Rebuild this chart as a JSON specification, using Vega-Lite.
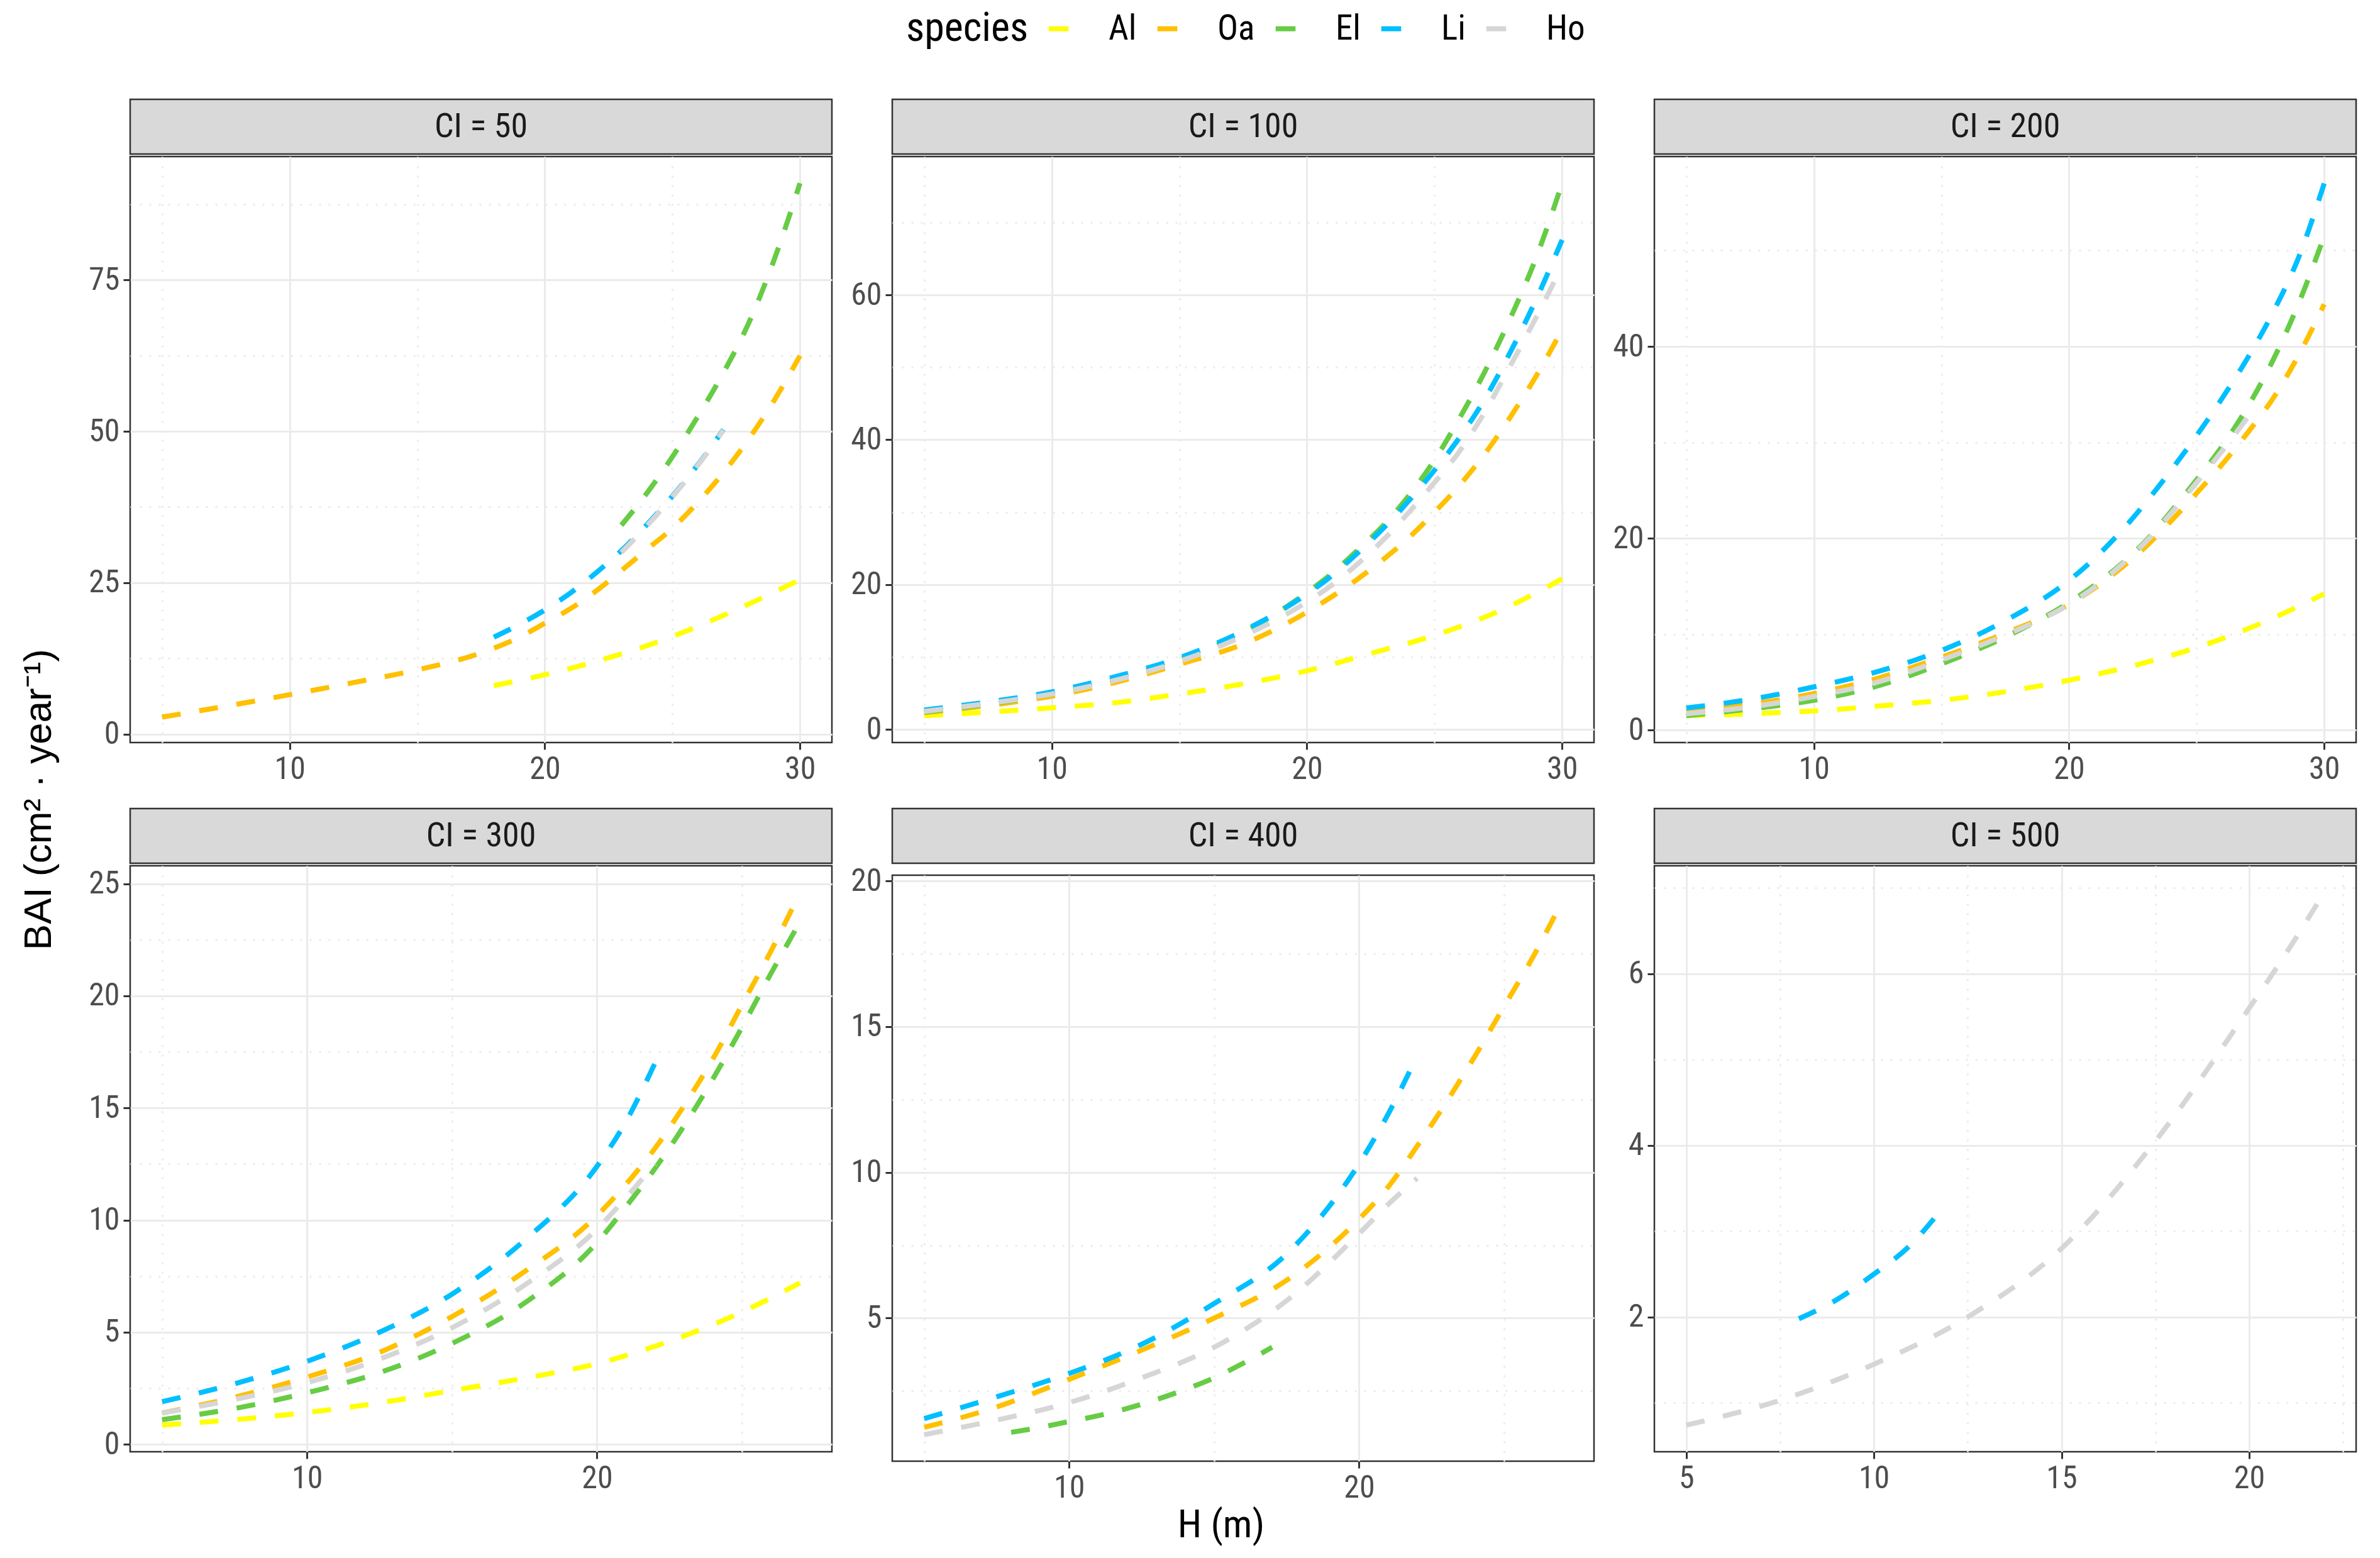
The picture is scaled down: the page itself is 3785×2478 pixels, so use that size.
{
  "$schema": "https://vega.github.io/schema/vega-lite/v6.json",
  "padding": {"left": 30, "top": 18, "right": 14, "bottom": 8},
  "title": {"text": "BAI (cm² · year⁻¹)", "orient": "left", "anchor": "middle", "fontSize": 62, "font": "Liberation Sans", "fontWeight": "normal", "color": "#000000", "offset": 42, "dx": -34},
  "datasets": {
    "strips": [
      {"CI": 50, "label": "CI = 50"}, {"CI": 100, "label": "CI = 100"}, {"CI": 200, "label": "CI = 200"},
      {"CI": 300, "label": "CI = 300"}, {"CI": 400, "label": "CI = 400"}, {"CI": 500, "label": "CI = 500"}
    ],
    "bai": [
      {"CI": 50, "species": "Al", "H": 18, "BAI": 8.0}, {"CI": 50, "species": "Al", "H": 20, "BAI": 9.8}, {"CI": 50, "species": "Al", "H": 22, "BAI": 12.0}, {"CI": 50, "species": "Al", "H": 24, "BAI": 14.6}, {"CI": 50, "species": "Al", "H": 26, "BAI": 17.8}, {"CI": 50, "species": "Al", "H": 28, "BAI": 21.5}, {"CI": 50, "species": "Al", "H": 30, "BAI": 25.5},
      {"CI": 50, "species": "Oa", "H": 5, "BAI": 2.8}, {"CI": 50, "species": "Oa", "H": 7.5, "BAI": 4.6}, {"CI": 50, "species": "Oa", "H": 10, "BAI": 6.5}, {"CI": 50, "species": "Oa", "H": 12.5, "BAI": 8.5}, {"CI": 50, "species": "Oa", "H": 15, "BAI": 10.6}, {"CI": 50, "species": "Oa", "H": 17.5, "BAI": 13.4}, {"CI": 50, "species": "Oa", "H": 19, "BAI": 16.0}, {"CI": 50, "species": "Oa", "H": 20, "BAI": 18.3}, {"CI": 50, "species": "Oa", "H": 21, "BAI": 20.7}, {"CI": 50, "species": "Oa", "H": 22, "BAI": 23.6}, {"CI": 50, "species": "Oa", "H": 23, "BAI": 27.0}, {"CI": 50, "species": "Oa", "H": 24, "BAI": 30.5}, {"CI": 50, "species": "Oa", "H": 25, "BAI": 34.0}, {"CI": 50, "species": "Oa", "H": 26, "BAI": 38.3}, {"CI": 50, "species": "Oa", "H": 27, "BAI": 43.2}, {"CI": 50, "species": "Oa", "H": 28, "BAI": 48.8}, {"CI": 50, "species": "Oa", "H": 29, "BAI": 55.2}, {"CI": 50, "species": "Oa", "H": 30, "BAI": 62.5},
      {"CI": 50, "species": "El", "H": 23, "BAI": 34.5}, {"CI": 50, "species": "El", "H": 24, "BAI": 39.8}, {"CI": 50, "species": "El", "H": 25, "BAI": 45.8}, {"CI": 50, "species": "El", "H": 26, "BAI": 52.5}, {"CI": 50, "species": "El", "H": 27, "BAI": 59.7}, {"CI": 50, "species": "El", "H": 28, "BAI": 68.0}, {"CI": 50, "species": "El", "H": 29, "BAI": 78.5}, {"CI": 50, "species": "El", "H": 30, "BAI": 91.0},
      {"CI": 50, "species": "Li", "H": 18, "BAI": 16.0}, {"CI": 50, "species": "Li", "H": 19, "BAI": 18.1}, {"CI": 50, "species": "Li", "H": 20, "BAI": 20.5}, {"CI": 50, "species": "Li", "H": 21, "BAI": 23.3}, {"CI": 50, "species": "Li", "H": 22, "BAI": 26.6}, {"CI": 50, "species": "Li", "H": 23, "BAI": 30.3}, {"CI": 50, "species": "Li", "H": 24, "BAI": 34.6}, {"CI": 50, "species": "Li", "H": 25, "BAI": 39.3}, {"CI": 50, "species": "Li", "H": 26, "BAI": 44.5}, {"CI": 50, "species": "Li", "H": 27, "BAI": 50.3},
      {"CI": 50, "species": "Ho", "H": 23, "BAI": 30.0}, {"CI": 50, "species": "Ho", "H": 24, "BAI": 34.4}, {"CI": 50, "species": "Ho", "H": 25, "BAI": 39.2}, {"CI": 50, "species": "Ho", "H": 26, "BAI": 44.4}, {"CI": 50, "species": "Ho", "H": 27, "BAI": 50.2},

      {"CI": 100, "species": "Al", "H": 5, "BAI": 1.9}, {"CI": 100, "species": "Al", "H": 7.5, "BAI": 2.4}, {"CI": 100, "species": "Al", "H": 10, "BAI": 3.0}, {"CI": 100, "species": "Al", "H": 12.5, "BAI": 3.7}, {"CI": 100, "species": "Al", "H": 15, "BAI": 4.9}, {"CI": 100, "species": "Al", "H": 17.5, "BAI": 6.3}, {"CI": 100, "species": "Al", "H": 20, "BAI": 8.1}, {"CI": 100, "species": "Al", "H": 22.5, "BAI": 10.5}, {"CI": 100, "species": "Al", "H": 25, "BAI": 13.0}, {"CI": 100, "species": "Al", "H": 27.5, "BAI": 16.3}, {"CI": 100, "species": "Al", "H": 30, "BAI": 20.8},
      {"CI": 100, "species": "Oa", "H": 5, "BAI": 2.3}, {"CI": 100, "species": "Oa", "H": 7.5, "BAI": 3.3}, {"CI": 100, "species": "Oa", "H": 10, "BAI": 4.6}, {"CI": 100, "species": "Oa", "H": 12.5, "BAI": 6.5}, {"CI": 100, "species": "Oa", "H": 15, "BAI": 9.0}, {"CI": 100, "species": "Oa", "H": 17.5, "BAI": 11.8}, {"CI": 100, "species": "Oa", "H": 20, "BAI": 16.2}, {"CI": 100, "species": "Oa", "H": 21, "BAI": 18.4}, {"CI": 100, "species": "Oa", "H": 22, "BAI": 20.8}, {"CI": 100, "species": "Oa", "H": 23, "BAI": 23.5}, {"CI": 100, "species": "Oa", "H": 24, "BAI": 26.5}, {"CI": 100, "species": "Oa", "H": 25, "BAI": 30.0}, {"CI": 100, "species": "Oa", "H": 26, "BAI": 33.8}, {"CI": 100, "species": "Oa", "H": 27, "BAI": 38.2}, {"CI": 100, "species": "Oa", "H": 28, "BAI": 43.3}, {"CI": 100, "species": "Oa", "H": 29, "BAI": 48.9}, {"CI": 100, "species": "Oa", "H": 30, "BAI": 55.2},
      {"CI": 100, "species": "El", "H": 5, "BAI": 2.4}, {"CI": 100, "species": "El", "H": 7.5, "BAI": 3.5}, {"CI": 100, "species": "El", "H": 10, "BAI": 4.9}, {"CI": 100, "species": "El", "H": 12.5, "BAI": 6.9}, {"CI": 100, "species": "El", "H": 15, "BAI": 9.6}, {"CI": 100, "species": "El", "H": 17.5, "BAI": 13.4}, {"CI": 100, "species": "El", "H": 20, "BAI": 18.9}, {"CI": 100, "species": "El", "H": 21, "BAI": 21.6}, {"CI": 100, "species": "El", "H": 22, "BAI": 24.8}, {"CI": 100, "species": "El", "H": 23, "BAI": 28.2}, {"CI": 100, "species": "El", "H": 24, "BAI": 32.3}, {"CI": 100, "species": "El", "H": 25, "BAI": 37.2}, {"CI": 100, "species": "El", "H": 26, "BAI": 43.1}, {"CI": 100, "species": "El", "H": 27, "BAI": 49.6}, {"CI": 100, "species": "El", "H": 28, "BAI": 57.0}, {"CI": 100, "species": "El", "H": 29, "BAI": 65.3}, {"CI": 100, "species": "El", "H": 30, "BAI": 75.4},
      {"CI": 100, "species": "Li", "H": 5, "BAI": 2.7}, {"CI": 100, "species": "Li", "H": 7.5, "BAI": 3.8}, {"CI": 100, "species": "Li", "H": 10, "BAI": 5.2}, {"CI": 100, "species": "Li", "H": 12.5, "BAI": 7.3}, {"CI": 100, "species": "Li", "H": 15, "BAI": 9.9}, {"CI": 100, "species": "Li", "H": 17.5, "BAI": 13.6}, {"CI": 100, "species": "Li", "H": 20, "BAI": 18.7}, {"CI": 100, "species": "Li", "H": 21, "BAI": 21.3}, {"CI": 100, "species": "Li", "H": 22, "BAI": 24.4}, {"CI": 100, "species": "Li", "H": 23, "BAI": 27.8}, {"CI": 100, "species": "Li", "H": 24, "BAI": 31.6}, {"CI": 100, "species": "Li", "H": 25, "BAI": 35.8}, {"CI": 100, "species": "Li", "H": 26, "BAI": 40.4}, {"CI": 100, "species": "Li", "H": 27, "BAI": 45.8}, {"CI": 100, "species": "Li", "H": 28, "BAI": 52.3}, {"CI": 100, "species": "Li", "H": 29, "BAI": 59.5}, {"CI": 100, "species": "Li", "H": 30, "BAI": 67.6},
      {"CI": 100, "species": "Ho", "H": 5, "BAI": 2.5}, {"CI": 100, "species": "Ho", "H": 7.5, "BAI": 3.6}, {"CI": 100, "species": "Ho", "H": 10, "BAI": 4.9}, {"CI": 100, "species": "Ho", "H": 12.5, "BAI": 6.8}, {"CI": 100, "species": "Ho", "H": 15, "BAI": 9.4}, {"CI": 100, "species": "Ho", "H": 17.5, "BAI": 12.9}, {"CI": 100, "species": "Ho", "H": 20, "BAI": 17.6}, {"CI": 100, "species": "Ho", "H": 21, "BAI": 20.0}, {"CI": 100, "species": "Ho", "H": 22, "BAI": 22.9}, {"CI": 100, "species": "Ho", "H": 23, "BAI": 26.2}, {"CI": 100, "species": "Ho", "H": 24, "BAI": 30.0}, {"CI": 100, "species": "Ho", "H": 25, "BAI": 34.1}, {"CI": 100, "species": "Ho", "H": 26, "BAI": 38.5}, {"CI": 100, "species": "Ho", "H": 27, "BAI": 44.0}, {"CI": 100, "species": "Ho", "H": 28, "BAI": 50.4}, {"CI": 100, "species": "Ho", "H": 29, "BAI": 57.0}, {"CI": 100, "species": "Ho", "H": 30, "BAI": 64.0},

      {"CI": 200, "species": "Al", "H": 5, "BAI": 1.5}, {"CI": 200, "species": "Al", "H": 7.5, "BAI": 1.7}, {"CI": 200, "species": "Al", "H": 10, "BAI": 2.0}, {"CI": 200, "species": "Al", "H": 12.5, "BAI": 2.5}, {"CI": 200, "species": "Al", "H": 15, "BAI": 3.1}, {"CI": 200, "species": "Al", "H": 17.5, "BAI": 4.0}, {"CI": 200, "species": "Al", "H": 20, "BAI": 5.2}, {"CI": 200, "species": "Al", "H": 22.5, "BAI": 6.7}, {"CI": 200, "species": "Al", "H": 25, "BAI": 8.6}, {"CI": 200, "species": "Al", "H": 27.5, "BAI": 11.1}, {"CI": 200, "species": "Al", "H": 30, "BAI": 14.2},
      {"CI": 200, "species": "Oa", "H": 5, "BAI": 1.9}, {"CI": 200, "species": "Oa", "H": 7.5, "BAI": 2.7}, {"CI": 200, "species": "Oa", "H": 10, "BAI": 3.8}, {"CI": 200, "species": "Oa", "H": 12.5, "BAI": 5.4}, {"CI": 200, "species": "Oa", "H": 15, "BAI": 7.6}, {"CI": 200, "species": "Oa", "H": 17.5, "BAI": 10.1}, {"CI": 200, "species": "Oa", "H": 20, "BAI": 13.1}, {"CI": 200, "species": "Oa", "H": 21, "BAI": 14.8}, {"CI": 200, "species": "Oa", "H": 22, "BAI": 16.8}, {"CI": 200, "species": "Oa", "H": 23, "BAI": 19.1}, {"CI": 200, "species": "Oa", "H": 24, "BAI": 21.8}, {"CI": 200, "species": "Oa", "H": 25, "BAI": 24.7}, {"CI": 200, "species": "Oa", "H": 26, "BAI": 27.7}, {"CI": 200, "species": "Oa", "H": 27, "BAI": 31.0}, {"CI": 200, "species": "Oa", "H": 28, "BAI": 34.6}, {"CI": 200, "species": "Oa", "H": 29, "BAI": 39.1}, {"CI": 200, "species": "Oa", "H": 30, "BAI": 44.4},
      {"CI": 200, "species": "El", "H": 5, "BAI": 1.5}, {"CI": 200, "species": "El", "H": 7.5, "BAI": 2.2}, {"CI": 200, "species": "El", "H": 10, "BAI": 3.1}, {"CI": 200, "species": "El", "H": 12.5, "BAI": 4.6}, {"CI": 200, "species": "El", "H": 15, "BAI": 6.9}, {"CI": 200, "species": "El", "H": 17.5, "BAI": 9.7}, {"CI": 200, "species": "El", "H": 20, "BAI": 13.3}, {"CI": 200, "species": "El", "H": 21, "BAI": 15.1}, {"CI": 200, "species": "El", "H": 22, "BAI": 17.2}, {"CI": 200, "species": "El", "H": 23, "BAI": 19.7}, {"CI": 200, "species": "El", "H": 24, "BAI": 22.8}, {"CI": 200, "species": "El", "H": 25, "BAI": 26.1}, {"CI": 200, "species": "El", "H": 26, "BAI": 29.6}, {"CI": 200, "species": "El", "H": 27, "BAI": 33.7}, {"CI": 200, "species": "El", "H": 28, "BAI": 38.6}, {"CI": 200, "species": "El", "H": 29, "BAI": 44.5}, {"CI": 200, "species": "El", "H": 30, "BAI": 51.5},
      {"CI": 200, "species": "Li", "H": 5, "BAI": 2.3}, {"CI": 200, "species": "Li", "H": 7.5, "BAI": 3.2}, {"CI": 200, "species": "Li", "H": 10, "BAI": 4.5}, {"CI": 200, "species": "Li", "H": 12.5, "BAI": 6.1}, {"CI": 200, "species": "Li", "H": 15, "BAI": 8.3}, {"CI": 200, "species": "Li", "H": 17.5, "BAI": 11.4}, {"CI": 200, "species": "Li", "H": 20, "BAI": 15.6}, {"CI": 200, "species": "Li", "H": 21, "BAI": 17.9}, {"CI": 200, "species": "Li", "H": 22, "BAI": 20.6}, {"CI": 200, "species": "Li", "H": 23, "BAI": 23.7}, {"CI": 200, "species": "Li", "H": 24, "BAI": 27.1}, {"CI": 200, "species": "Li", "H": 25, "BAI": 30.7}, {"CI": 200, "species": "Li", "H": 26, "BAI": 34.6}, {"CI": 200, "species": "Li", "H": 27, "BAI": 38.8}, {"CI": 200, "species": "Li", "H": 28, "BAI": 43.6}, {"CI": 200, "species": "Li", "H": 29, "BAI": 49.3}, {"CI": 200, "species": "Li", "H": 30, "BAI": 57.0},
      {"CI": 200, "species": "Ho", "H": 5, "BAI": 1.7}, {"CI": 200, "species": "Ho", "H": 7.5, "BAI": 2.4}, {"CI": 200, "species": "Ho", "H": 10, "BAI": 3.5}, {"CI": 200, "species": "Ho", "H": 12.5, "BAI": 5.0}, {"CI": 200, "species": "Ho", "H": 15, "BAI": 7.3}, {"CI": 200, "species": "Ho", "H": 17.5, "BAI": 9.9}, {"CI": 200, "species": "Ho", "H": 20, "BAI": 13.1}, {"CI": 200, "species": "Ho", "H": 21, "BAI": 14.9}, {"CI": 200, "species": "Ho", "H": 22, "BAI": 17.1}, {"CI": 200, "species": "Ho", "H": 23, "BAI": 19.6}, {"CI": 200, "species": "Ho", "H": 24, "BAI": 22.6}, {"CI": 200, "species": "Ho", "H": 25, "BAI": 25.8}, {"CI": 200, "species": "Ho", "H": 26, "BAI": 29.1}, {"CI": 200, "species": "Ho", "H": 27, "BAI": 32.6},

      {"CI": 300, "species": "Al", "H": 5, "BAI": 0.86}, {"CI": 300, "species": "Al", "H": 7.5, "BAI": 1.1}, {"CI": 300, "species": "Al", "H": 10, "BAI": 1.42}, {"CI": 300, "species": "Al", "H": 12.5, "BAI": 1.85}, {"CI": 300, "species": "Al", "H": 15, "BAI": 2.4}, {"CI": 300, "species": "Al", "H": 17.5, "BAI": 2.95}, {"CI": 300, "species": "Al", "H": 20, "BAI": 3.6}, {"CI": 300, "species": "Al", "H": 22.5, "BAI": 4.6}, {"CI": 300, "species": "Al", "H": 25, "BAI": 5.9}, {"CI": 300, "species": "Al", "H": 27, "BAI": 7.2},
      {"CI": 300, "species": "Oa", "H": 5, "BAI": 1.4}, {"CI": 300, "species": "Oa", "H": 7.5, "BAI": 2.1}, {"CI": 300, "species": "Oa", "H": 10, "BAI": 3.0}, {"CI": 300, "species": "Oa", "H": 12.5, "BAI": 4.1}, {"CI": 300, "species": "Oa", "H": 15, "BAI": 5.7}, {"CI": 300, "species": "Oa", "H": 17.5, "BAI": 7.7}, {"CI": 300, "species": "Oa", "H": 20, "BAI": 10.2}, {"CI": 300, "species": "Oa", "H": 21, "BAI": 11.6}, {"CI": 300, "species": "Oa", "H": 22, "BAI": 13.2}, {"CI": 300, "species": "Oa", "H": 23, "BAI": 15.1}, {"CI": 300, "species": "Oa", "H": 24, "BAI": 17.2}, {"CI": 300, "species": "Oa", "H": 25, "BAI": 19.6}, {"CI": 300, "species": "Oa", "H": 26, "BAI": 22.0}, {"CI": 300, "species": "Oa", "H": 27, "BAI": 24.6},
      {"CI": 300, "species": "El", "H": 5, "BAI": 1.1}, {"CI": 300, "species": "El", "H": 7.5, "BAI": 1.6}, {"CI": 300, "species": "El", "H": 10, "BAI": 2.3}, {"CI": 300, "species": "El", "H": 12.5, "BAI": 3.2}, {"CI": 300, "species": "El", "H": 15, "BAI": 4.5}, {"CI": 300, "species": "El", "H": 17.5, "BAI": 6.3}, {"CI": 300, "species": "El", "H": 20, "BAI": 9.0}, {"CI": 300, "species": "El", "H": 21, "BAI": 10.6}, {"CI": 300, "species": "El", "H": 22, "BAI": 12.3}, {"CI": 300, "species": "El", "H": 23, "BAI": 14.2}, {"CI": 300, "species": "El", "H": 24, "BAI": 16.3}, {"CI": 300, "species": "El", "H": 25, "BAI": 18.6}, {"CI": 300, "species": "El", "H": 26, "BAI": 21.0}, {"CI": 300, "species": "El", "H": 27, "BAI": 23.3},
      {"CI": 300, "species": "Li", "H": 5, "BAI": 1.9}, {"CI": 300, "species": "Li", "H": 7.5, "BAI": 2.7}, {"CI": 300, "species": "Li", "H": 10, "BAI": 3.7}, {"CI": 300, "species": "Li", "H": 12.5, "BAI": 5.0}, {"CI": 300, "species": "Li", "H": 15, "BAI": 6.7}, {"CI": 300, "species": "Li", "H": 17.5, "BAI": 9.1}, {"CI": 300, "species": "Li", "H": 20, "BAI": 12.4}, {"CI": 300, "species": "Li", "H": 21, "BAI": 14.4}, {"CI": 300, "species": "Li", "H": 22, "BAI": 17.0},
      {"CI": 300, "species": "Ho", "H": 5, "BAI": 1.4}, {"CI": 300, "species": "Ho", "H": 7.5, "BAI": 2.0}, {"CI": 300, "species": "Ho", "H": 10, "BAI": 2.75}, {"CI": 300, "species": "Ho", "H": 12.5, "BAI": 3.8}, {"CI": 300, "species": "Ho", "H": 15, "BAI": 5.2}, {"CI": 300, "species": "Ho", "H": 17.5, "BAI": 7.1}, {"CI": 300, "species": "Ho", "H": 20, "BAI": 9.6}, {"CI": 300, "species": "Ho", "H": 21, "BAI": 11.0}, {"CI": 300, "species": "Ho", "H": 22, "BAI": 12.5},

      {"CI": 400, "species": "Oa", "H": 5, "BAI": 1.25}, {"CI": 400, "species": "Oa", "H": 7.5, "BAI": 1.95}, {"CI": 400, "species": "Oa", "H": 10, "BAI": 2.9}, {"CI": 400, "species": "Oa", "H": 12.5, "BAI": 3.9}, {"CI": 400, "species": "Oa", "H": 15, "BAI": 5.0}, {"CI": 400, "species": "Oa", "H": 17.5, "BAI": 6.3}, {"CI": 400, "species": "Oa", "H": 20, "BAI": 8.4}, {"CI": 400, "species": "Oa", "H": 21, "BAI": 9.5}, {"CI": 400, "species": "Oa", "H": 22, "BAI": 10.9}, {"CI": 400, "species": "Oa", "H": 23, "BAI": 12.4}, {"CI": 400, "species": "Oa", "H": 24, "BAI": 14.0}, {"CI": 400, "species": "Oa", "H": 25, "BAI": 15.7}, {"CI": 400, "species": "Oa", "H": 26, "BAI": 17.4}, {"CI": 400, "species": "Oa", "H": 27, "BAI": 19.3},
      {"CI": 400, "species": "El", "H": 8, "BAI": 1.08}, {"CI": 400, "species": "El", "H": 9, "BAI": 1.25}, {"CI": 400, "species": "El", "H": 10, "BAI": 1.45}, {"CI": 400, "species": "El", "H": 11, "BAI": 1.65}, {"CI": 400, "species": "El", "H": 12, "BAI": 1.9}, {"CI": 400, "species": "El", "H": 13, "BAI": 2.2}, {"CI": 400, "species": "El", "H": 14, "BAI": 2.55}, {"CI": 400, "species": "El", "H": 15, "BAI": 2.95}, {"CI": 400, "species": "El", "H": 16, "BAI": 3.45}, {"CI": 400, "species": "El", "H": 17, "BAI": 4.0},
      {"CI": 400, "species": "Li", "H": 5, "BAI": 1.55}, {"CI": 400, "species": "Li", "H": 7.5, "BAI": 2.3}, {"CI": 400, "species": "Li", "H": 10, "BAI": 3.1}, {"CI": 400, "species": "Li", "H": 12.5, "BAI": 4.1}, {"CI": 400, "species": "Li", "H": 15, "BAI": 5.5}, {"CI": 400, "species": "Li", "H": 17.5, "BAI": 7.2}, {"CI": 400, "species": "Li", "H": 20, "BAI": 10.3}, {"CI": 400, "species": "Li", "H": 21, "BAI": 12.0}, {"CI": 400, "species": "Li", "H": 22, "BAI": 14.0},
      {"CI": 400, "species": "Ho", "H": 5, "BAI": 1.0}, {"CI": 400, "species": "Ho", "H": 7.5, "BAI": 1.5}, {"CI": 400, "species": "Ho", "H": 10, "BAI": 2.1}, {"CI": 400, "species": "Ho", "H": 12.5, "BAI": 2.95}, {"CI": 400, "species": "Ho", "H": 15, "BAI": 4.0}, {"CI": 400, "species": "Ho", "H": 17.5, "BAI": 5.6}, {"CI": 400, "species": "Ho", "H": 20, "BAI": 7.9}, {"CI": 400, "species": "Ho", "H": 21, "BAI": 8.9}, {"CI": 400, "species": "Ho", "H": 22, "BAI": 9.8},

      {"CI": 500, "species": "Li", "H": 8, "BAI": 1.98}, {"CI": 500, "species": "Li", "H": 9, "BAI": 2.2}, {"CI": 500, "species": "Li", "H": 10, "BAI": 2.5}, {"CI": 500, "species": "Li", "H": 11, "BAI": 2.85}, {"CI": 500, "species": "Li", "H": 11.7, "BAI": 3.2},
      {"CI": 500, "species": "Ho", "H": 5, "BAI": 0.74}, {"CI": 500, "species": "Ho", "H": 7.5, "BAI": 1.03}, {"CI": 500, "species": "Ho", "H": 10, "BAI": 1.45}, {"CI": 500, "species": "Ho", "H": 12.5, "BAI": 2.0}, {"CI": 500, "species": "Ho", "H": 15, "BAI": 2.8}, {"CI": 500, "species": "Ho", "H": 17.5, "BAI": 4.05}, {"CI": 500, "species": "Ho", "H": 20, "BAI": 5.6}, {"CI": 500, "species": "Ho", "H": 21, "BAI": 6.25}, {"CI": 500, "species": "Ho", "H": 22, "BAI": 6.95}
    ]
  },
  "spacing": 34,
  "vconcat": [
    {
      "spacing": 22,
      "hconcat": [
        {"spacing": 0, "vconcat": [
          {"data": {"name": "strips"}, "transform": [{"filter": "datum.CI == 50"}], "width": 1116, "height": 87, "view": {"fill": "#D9D9D9", "stroke": "#333333", "strokeWidth": 2.5}, "mark": {"type": "text", "fontSize": 54, "font": "Roboto Condensed, Lato, sans-serif", "color": "#1A1A1A", "baseline": "middle"}, "encoding": {"text": {"field": "label", "type": "nominal"}}},
          {"data": {"name": "bai"}, "transform": [{"filter": "datum.CI == 50"}], "width": 1116, "height": 932, "mark": {"type": "line", "strokeDash": [30, 30], "strokeWidth": 8, "interpolate": "monotone", "clip": true},
           "encoding": {
             "x": {"field": "H", "type": "quantitative", "title": null, "scale": {"domain": [3.75, 31.25], "nice": false, "zero": false}, "axis": {"values": [5, 10, 15, 20, 25, 30], "labelExpr": "datum.value % 10 ? '' : datum.label", "tickOpacity": {"condition": {"test": "datum.value % 10", "value": 0}, "value": 1}, "gridDash": {"condition": {"test": "datum.value % 10", "value": [3, 12]}, "value": []}}},
             "y": {"field": "BAI", "type": "quantitative", "title": null, "scale": {"domain": [-1.4, 95.4], "nice": false, "zero": false}, "axis": {"values": [0, 12.5, 25, 37.5, 50, 62.5, 75, 87.5], "labelExpr": "datum.value % 25 ? '' : datum.label", "tickOpacity": {"condition": {"test": "datum.value % 25", "value": 0}, "value": 1}, "gridDash": {"condition": {"test": "datum.value % 25", "value": [3, 12]}, "value": []}}},
             "color": {"field": "species", "type": "nominal", "legend": {"title": "species"}, "scale": {"domain": ["Al", "Oa", "El", "Li", "Ho"], "range": ["#FFFF00", "#FFC000", "#66CC44", "#00BFFF", "#D6D6D6"]}}
           }}
        ]},
        {"spacing": 0, "vconcat": [
          {"data": {"name": "strips"}, "transform": [{"filter": "datum.CI == 100"}], "width": 1116, "height": 87, "view": {"fill": "#D9D9D9", "stroke": "#333333", "strokeWidth": 2.5}, "mark": {"type": "text", "fontSize": 54, "font": "Roboto Condensed, Lato, sans-serif", "color": "#1A1A1A", "baseline": "middle"}, "encoding": {"text": {"field": "label", "type": "nominal"}}},
          {"data": {"name": "bai"}, "transform": [{"filter": "datum.CI == 100"}], "width": 1116, "height": 932, "mark": {"type": "line", "strokeDash": [30, 30], "strokeWidth": 8, "interpolate": "monotone", "clip": true},
           "encoding": {
             "x": {"field": "H", "type": "quantitative", "title": null, "scale": {"domain": [3.75, 31.25], "nice": false, "zero": false}, "axis": {"values": [5, 10, 15, 20, 25, 30], "labelExpr": "datum.value % 10 ? '' : datum.label", "tickOpacity": {"condition": {"test": "datum.value % 10", "value": 0}, "value": 1}, "gridDash": {"condition": {"test": "datum.value % 10", "value": [3, 12]}, "value": []}}},
             "y": {"field": "BAI", "type": "quantitative", "title": null, "scale": {"domain": [-1.8, 79.1], "nice": false, "zero": false}, "axis": {"values": [0, 10, 20, 30, 40, 50, 60, 70], "labelExpr": "datum.value % 20 ? '' : datum.label", "tickOpacity": {"condition": {"test": "datum.value % 20", "value": 0}, "value": 1}, "gridDash": {"condition": {"test": "datum.value % 20", "value": [3, 12]}, "value": []}}},
             "color": {"field": "species", "type": "nominal", "legend": {"title": "species"}, "scale": {"domain": ["Al", "Oa", "El", "Li", "Ho"], "range": ["#FFFF00", "#FFC000", "#66CC44", "#00BFFF", "#D6D6D6"]}}
           }}
        ]},
        {"spacing": 0, "vconcat": [
          {"data": {"name": "strips"}, "transform": [{"filter": "datum.CI == 200"}], "width": 1116, "height": 87, "view": {"fill": "#D9D9D9", "stroke": "#333333", "strokeWidth": 2.5}, "mark": {"type": "text", "fontSize": 54, "font": "Roboto Condensed, Lato, sans-serif", "color": "#1A1A1A", "baseline": "middle"}, "encoding": {"text": {"field": "label", "type": "nominal"}}},
          {"data": {"name": "bai"}, "transform": [{"filter": "datum.CI == 200"}], "width": 1116, "height": 932, "mark": {"type": "line", "strokeDash": [30, 30], "strokeWidth": 8, "interpolate": "monotone", "clip": true},
           "encoding": {
             "x": {"field": "H", "type": "quantitative", "title": null, "scale": {"domain": [3.75, 31.25], "nice": false, "zero": false}, "axis": {"values": [5, 10, 15, 20, 25, 30], "labelExpr": "datum.value % 10 ? '' : datum.label", "tickOpacity": {"condition": {"test": "datum.value % 10", "value": 0}, "value": 1}, "gridDash": {"condition": {"test": "datum.value % 10", "value": [3, 12]}, "value": []}}},
             "y": {"field": "BAI", "type": "quantitative", "title": null, "scale": {"domain": [-1.3, 59.8], "nice": false, "zero": false}, "axis": {"values": [0, 10, 20, 30, 40, 50], "labelExpr": "datum.value % 20 ? '' : datum.label", "tickOpacity": {"condition": {"test": "datum.value % 20", "value": 0}, "value": 1}, "gridDash": {"condition": {"test": "datum.value % 20", "value": [3, 12]}, "value": []}}},
             "color": {"field": "species", "type": "nominal", "legend": {"title": "species"}, "scale": {"domain": ["Al", "Oa", "El", "Li", "Ho"], "range": ["#FFFF00", "#FFC000", "#66CC44", "#00BFFF", "#D6D6D6"]}}
           }}
        ]}
      ]
    },
    {
      "spacing": 22,
      "title": {"text": "H (m)", "orient": "bottom", "anchor": "middle", "fontSize": 62, "font": "Roboto Condensed, Lato, sans-serif", "fontWeight": "normal", "color": "#000000", "offset": 4},
      "hconcat": [
        {"spacing": 0, "vconcat": [
          {"data": {"name": "strips"}, "transform": [{"filter": "datum.CI == 300"}], "width": 1116, "height": 87, "view": {"fill": "#D9D9D9", "stroke": "#333333", "strokeWidth": 2.5}, "mark": {"type": "text", "fontSize": 54, "font": "Roboto Condensed, Lato, sans-serif", "color": "#1A1A1A", "baseline": "middle"}, "encoding": {"text": {"field": "label", "type": "nominal"}}},
          {"data": {"name": "bai"}, "transform": [{"filter": "datum.CI == 300"}], "width": 1116, "height": 932, "mark": {"type": "line", "strokeDash": [30, 30], "strokeWidth": 8, "interpolate": "monotone", "clip": true},
           "encoding": {
             "x": {"field": "H", "type": "quantitative", "title": null, "scale": {"domain": [3.9, 28.1], "nice": false, "zero": false}, "axis": {"values": [5, 10, 15, 20, 25], "labelExpr": "datum.value % 10 ? '' : datum.label", "tickOpacity": {"condition": {"test": "datum.value % 10", "value": 0}, "value": 1}, "gridDash": {"condition": {"test": "datum.value % 10", "value": [3, 12]}, "value": []}}},
             "y": {"field": "BAI", "type": "quantitative", "title": null, "scale": {"domain": [-0.33, 25.8], "nice": false, "zero": false}, "axis": {"values": [0, 2.5, 5, 7.5, 10, 12.5, 15, 17.5, 20, 22.5, 25], "labelExpr": "datum.value % 5 ? '' : datum.label", "tickOpacity": {"condition": {"test": "datum.value % 5", "value": 0}, "value": 1}, "gridDash": {"condition": {"test": "datum.value % 5", "value": [3, 12]}, "value": []}}},
             "color": {"field": "species", "type": "nominal", "legend": {"title": "species"}, "scale": {"domain": ["Al", "Oa", "El", "Li", "Ho"], "range": ["#FFFF00", "#FFC000", "#66CC44", "#00BFFF", "#D6D6D6"]}}
           }}
        ]},
        {"spacing": 0, "vconcat": [
          {"data": {"name": "strips"}, "transform": [{"filter": "datum.CI == 400"}], "width": 1116, "height": 87, "view": {"fill": "#D9D9D9", "stroke": "#333333", "strokeWidth": 2.5}, "mark": {"type": "text", "fontSize": 54, "font": "Roboto Condensed, Lato, sans-serif", "color": "#1A1A1A", "baseline": "middle"}, "encoding": {"text": {"field": "label", "type": "nominal"}}},
          {"data": {"name": "bai"}, "transform": [{"filter": "datum.CI == 400"}], "width": 1116, "height": 932, "mark": {"type": "line", "strokeDash": [30, 30], "strokeWidth": 8, "interpolate": "monotone", "clip": true},
           "encoding": {
             "x": {"field": "H", "type": "quantitative", "title": null, "scale": {"domain": [3.9, 28.1], "nice": false, "zero": false}, "axis": {"values": [5, 10, 15, 20, 25], "labelExpr": "datum.value % 10 ? '' : datum.label", "tickOpacity": {"condition": {"test": "datum.value % 10", "value": 0}, "value": 1}, "gridDash": {"condition": {"test": "datum.value % 10", "value": [3, 12]}, "value": []}}},
             "y": {"field": "BAI", "type": "quantitative", "title": null, "scale": {"domain": [0.09, 20.2], "nice": false, "zero": false}, "axis": {"values": [2.5, 5, 7.5, 10, 12.5, 15, 17.5, 20], "labelExpr": "datum.value % 5 ? '' : datum.label", "tickOpacity": {"condition": {"test": "datum.value % 5", "value": 0}, "value": 1}, "gridDash": {"condition": {"test": "datum.value % 5", "value": [3, 12]}, "value": []}}},
             "color": {"field": "species", "type": "nominal", "legend": {"title": "species"}, "scale": {"domain": ["Al", "Oa", "El", "Li", "Ho"], "range": ["#FFFF00", "#FFC000", "#66CC44", "#00BFFF", "#D6D6D6"]}}
           }}
        ]},
        {"spacing": 0, "vconcat": [
          {"data": {"name": "strips"}, "transform": [{"filter": "datum.CI == 500"}], "width": 1116, "height": 87, "view": {"fill": "#D9D9D9", "stroke": "#333333", "strokeWidth": 2.5}, "mark": {"type": "text", "fontSize": 54, "font": "Roboto Condensed, Lato, sans-serif", "color": "#1A1A1A", "baseline": "middle"}, "encoding": {"text": {"field": "label", "type": "nominal"}}},
          {"data": {"name": "bai"}, "transform": [{"filter": "datum.CI == 500"}], "width": 1116, "height": 932, "mark": {"type": "line", "strokeDash": [30, 30], "strokeWidth": 8, "interpolate": "monotone", "clip": true},
           "encoding": {
             "x": {"field": "H", "type": "quantitative", "title": null, "scale": {"domain": [4.15, 22.85], "nice": false, "zero": false}, "axis": {"values": [5, 7.5, 10, 12.5, 15, 17.5, 20, 22.5], "labelExpr": "datum.value % 5 ? '' : datum.label", "tickOpacity": {"condition": {"test": "datum.value % 5", "value": 0}, "value": 1}, "gridDash": {"condition": {"test": "datum.value % 5", "value": [3, 12]}, "value": []}}},
             "y": {"field": "BAI", "type": "quantitative", "title": null, "scale": {"domain": [0.43, 7.26], "nice": false, "zero": false}, "axis": {"values": [1, 2, 3, 4, 5, 6, 7], "labelExpr": "datum.value % 2 ? '' : datum.label", "tickOpacity": {"condition": {"test": "datum.value % 2", "value": 0}, "value": 1}, "gridDash": {"condition": {"test": "datum.value % 2", "value": [3, 12]}, "value": []}}},
             "color": {"field": "species", "type": "nominal", "legend": {"title": "species"}, "scale": {"domain": ["Al", "Oa", "El", "Li", "Ho"], "range": ["#FFFF00", "#FFC000", "#66CC44", "#00BFFF", "#D6D6D6"]}}
           }}
        ]}
      ]
    }
  ],
  "config": {
    "background": "#FFFFFF",
    "view": {"stroke": "#333333", "strokeWidth": 2.5},
    "axis": {"labelFont": "Roboto Condensed, Lato, sans-serif", "labelFontSize": 50, "labelColor": "#4D4D4D", "tickColor": "#333333", "tickWidth": 3, "tickSize": 11, "labelPadding": 6, "domain": false, "gridColor": "#EBEBEB", "gridWidth": 3},
    "axisX": {"minExtent": 66, "maxExtent": 66},
    "axisY": {"minExtent": 70, "maxExtent": 70},
    "legend": {"orient": "none", "legendX": 1234, "legendY": -140, "direction": "horizontal", "titleOrient": "left", "titleFont": "Roboto Condensed, Lato, sans-serif", "titleFontSize": 64, "titleFontWeight": "normal", "titleColor": "#000000", "titlePadding": 20, "titleLimit": 500, "labelFont": "Roboto Condensed, Lato, sans-serif", "labelFontSize": 55, "labelColor": "#000000", "symbolType": "stroke", "symbolStrokeWidth": 8, "symbolSize": 1000, "labelOffset": 52, "columnPadding": 16}
  }
}
